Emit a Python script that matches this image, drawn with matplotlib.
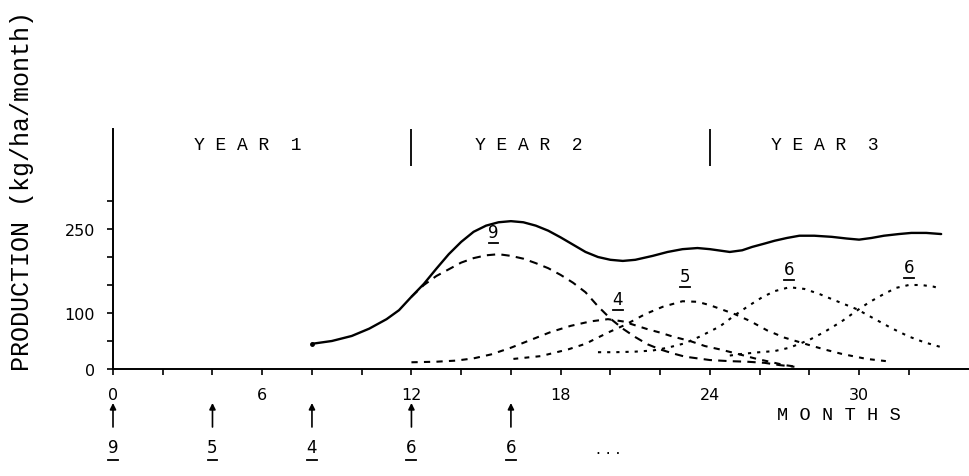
import matplotlib
matplotlib.use("Agg")
import matplotlib.pyplot as plt
import matplotlib.transforms as mtransforms

# ---------------- data (months, kg/ha/month) ----------------
total_m = [8, 8.8, 9.6, 10.3, 11.0, 11.5, 12.0, 12.5, 13.0, 13.5, 14.0, 14.5, 15.0, 15.5,
           16.0, 16.5, 17.0, 17.5, 18.0, 18.5, 19.0, 19.5, 20.0, 20.5, 21.0, 21.7, 22.3,
           22.9, 23.5, 24.0, 24.8, 25.3, 25.7, 26.2, 26.6, 27.1, 27.6, 28.2, 28.9, 29.5,
           30.0, 30.5, 31.0, 31.6, 32.1, 32.7, 33.3]
total_v = [45, 50, 59, 72, 89, 105, 129, 152, 179, 205, 227, 245, 256, 262,
           264, 262, 256, 247, 235, 222, 209, 200, 195, 193, 195, 202, 209,
           214, 216, 214, 209, 212, 218, 224, 229, 234, 238, 238, 236, 233,
           231, 234, 238, 241, 243, 243, 241]

c9_m = [12.0, 12.5, 13.0, 13.5, 14.0, 14.5, 15.0, 15.5, 16.0, 16.5, 17.0, 17.5, 18.0,
        18.5, 19.0, 19.5, 20.0, 20.5, 21.0, 21.5, 22.0, 22.5, 23.0, 23.5, 24.0, 24.8,
        25.5, 26.2, 26.8, 27.4]
c9_v = [129, 150, 166, 178, 190, 198, 203, 205, 202, 197, 189, 180, 168,
        154, 137, 112, 90, 72, 57, 44, 35, 28, 22, 19, 16, 14,
        13, 11, 7, 4]

c4_m = [12.0, 13.0, 13.8, 14.5, 15.2, 16.0, 16.8, 17.6, 18.4, 19.2, 19.9, 20.5, 21.0,
        21.5, 22.0, 22.5, 23.2, 23.8, 24.5, 25.2, 25.8, 26.5, 27.0, 27.5]
c4_v = [12, 13, 15, 19, 26, 38, 52, 66, 77, 85, 89, 85, 78,
        71, 65, 58, 50, 41, 34, 26, 19, 12, 7, 4]

c5_m = [16.1, 17.2, 18.3, 19.0, 19.4, 20.0, 20.6, 21.4, 22.1, 22.9, 23.5, 24.0, 24.5,
        25.0, 25.6, 26.3, 27.0, 27.9, 28.6, 29.3, 30.3, 31.3]
c5_v = [18, 23, 35, 45, 54, 67, 79, 98, 111, 121, 120, 114, 106,
        98, 86, 69, 56, 44, 35, 27, 18, 13]

c6a_m = [19.5, 20.2, 21.0, 21.7, 22.3, 23.0, 23.6, 24.4, 25.0, 25.6, 26.1, 26.6, 27.2,
         27.8, 28.4, 29.0, 29.9, 30.6, 31.3, 32.0, 32.6, 33.3]
c6a_v = [30, 30, 31, 33, 38, 46, 58, 76, 96, 114, 128, 139, 146,
         143, 134, 123, 107, 90, 73, 58, 48, 39]

c6b_m = [24.8, 25.3, 26.0, 26.6, 27.2, 27.6, 28.0, 28.6, 29.3, 29.9, 30.4, 31.0, 31.5,
         32.0, 32.5, 33.0, 33.3]
c6b_v = [24, 27, 30, 32, 38, 45, 52, 66, 85, 104, 119, 134, 145,
         150, 150, 147, 143]

peak_labels = ["9", "4", "5", "6", "6"]
peak_label_m = [15.3, 20.3, 23.0, 27.2, 32.0]
peak_label_v = [245, 125, 166, 179, 182]

stock_months = [0, 4, 8, 12, 16]
stock_labels = ["9", "5", "4", "6", "6"]

year_labels = ["Y E A R  1", "Y E A R  2", "Y E A R  3"]
year_label_m = [5.4, 16.7, 28.6]
year_bounds = [12, 24]

xtick_major = [0, 6, 12, 18, 24, 30]
xtick_minor = list(range(2, 34, 2))
ytick_major = [0, 100, 250]
ytick_minor = [50, 150, 200, 300]

# ---------------- figure ----------------
W, H = 969, 477
fig = plt.figure(figsize=(W / 100, H / 100), dpi=100)
ax_left, ax_bottom, ax_top = 113, 370, 130
ax = fig.add_axes([ax_left / W, (H - ax_bottom) / H, (W - ax_left) / W, (ax_bottom - ax_top) / H])
px_per_month = 24.87
px_per_unit = 0.56
ax.set_xlim(0, (W - ax_left) / px_per_month)
ax.set_ylim(0, (ax_bottom - ax_top) / px_per_unit)

for s in ["top", "right"]:
    ax.spines[s].set_visible(False)
for s in ["left", "bottom"]:
    ax.spines[s].set_linewidth(1.4)

mono = ["Liberation Mono", "DejaVu Sans Mono"]
tick_font = dict(family=["DejaVu Sans"], size=11.5)
ax.set_xticks(xtick_major)
ax.set_xticks(xtick_minor, minor=True)
ax.set_xticklabels([str(t) for t in xtick_major], **tick_font)
ax.set_yticks(ytick_major)
ax.set_yticks(ytick_minor, minor=True)
ax.set_yticklabels([str(t) for t in ytick_major], **tick_font)
ax.tick_params(axis="both", which="both", direction="out", length=4, width=1.2, color="black")
ax.tick_params(axis="x", which="major", pad=9)
ax.tick_params(axis="y", which="major", pad=9)

# y-axis title
fig.text(22 / W, 1 - 191 / H, "PRODUCTION (kg/ha/month)", rotation=90, ha="center", va="center",
         family=mono, fontsize=18)

# curves
ax.plot(total_m, total_v, color="black", lw=1.7, solid_capstyle="round")
ax.plot(total_m[:1], total_v[:1], "o", color="black", ms=2.5)
matplotlib.rcParams["lines.scale_dashes"] = False
ax.plot(c9_m, c9_v, color="black", lw=1.5, dashes=(6, 4.5))
ax.plot(c4_m, c4_v, color="black", lw=1.5, dashes=(4.5, 4.5))
ax.plot(c5_m, c5_v, color="black", lw=1.5, dashes=(3.5, 4.5))
ax.plot(c6a_m, c6a_v, color="black", lw=1.5, dashes=(2.3, 4.3))
ax.plot(c6b_m, c6b_v, color="black", lw=1.5, dashes=(2.3, 4.3))

# peak labels (underlined)
for t, m, v in zip(peak_labels, peak_label_m, peak_label_v):
    ax.text(m, v, t, ha="center", va="center", fontsize=12, family=["DejaVu Sans"])
    ax.plot([m - 0.2, m + 0.2], [v - 20, v - 20], color="black", lw=1.3)

# year separators and labels
ylim_top = ax.get_ylim()[1]
ax.vlines(year_bounds, (ax_bottom - 167) / px_per_unit, ylim_top, color="black", lw=1.3, clip_on=False)
for t, m in zip(year_labels, year_label_m):
    ax.text(m, (ax_bottom - 145) / px_per_unit, t, ha="center", va="center",
            family=mono, fontsize=13)

# stocking arrows below the axis
trans = mtransforms.blended_transform_factory(ax.transData, ax.transAxes)
def yax(py):
    return (ax_bottom - py) / (ax_bottom - ax_top)

for m, t in zip(stock_months, stock_labels):
    ax.annotate("", xy=(m, yax(404)), xytext=(m, yax(428)), xycoords=trans, textcoords=trans,
                arrowprops=dict(arrowstyle="-|>", lw=1.2, color="black", mutation_scale=9,
                                shrinkA=0, shrinkB=0), annotation_clip=False)
    ax.text(m, yax(448), t, transform=trans, ha="center", va="center", fontsize=12,
            family=["DejaVu Sans"], clip_on=False)
    ax.plot([m - 0.2, m + 0.2], [yax(461), yax(461)], transform=trans, color="black",
            lw=1.3, clip_on=False)

ax.text(19.9, yax(450), ". . .", transform=trans, ha="center", va="center", fontsize=11,
        family=["DejaVu Sans"], clip_on=False)
ax.text(29.2, yax(416), "M O N T H S", transform=trans, ha="center", va="center",
        fontsize=13.5, family=mono, clip_on=False)

fig.savefig("out.png", dpi=100)
